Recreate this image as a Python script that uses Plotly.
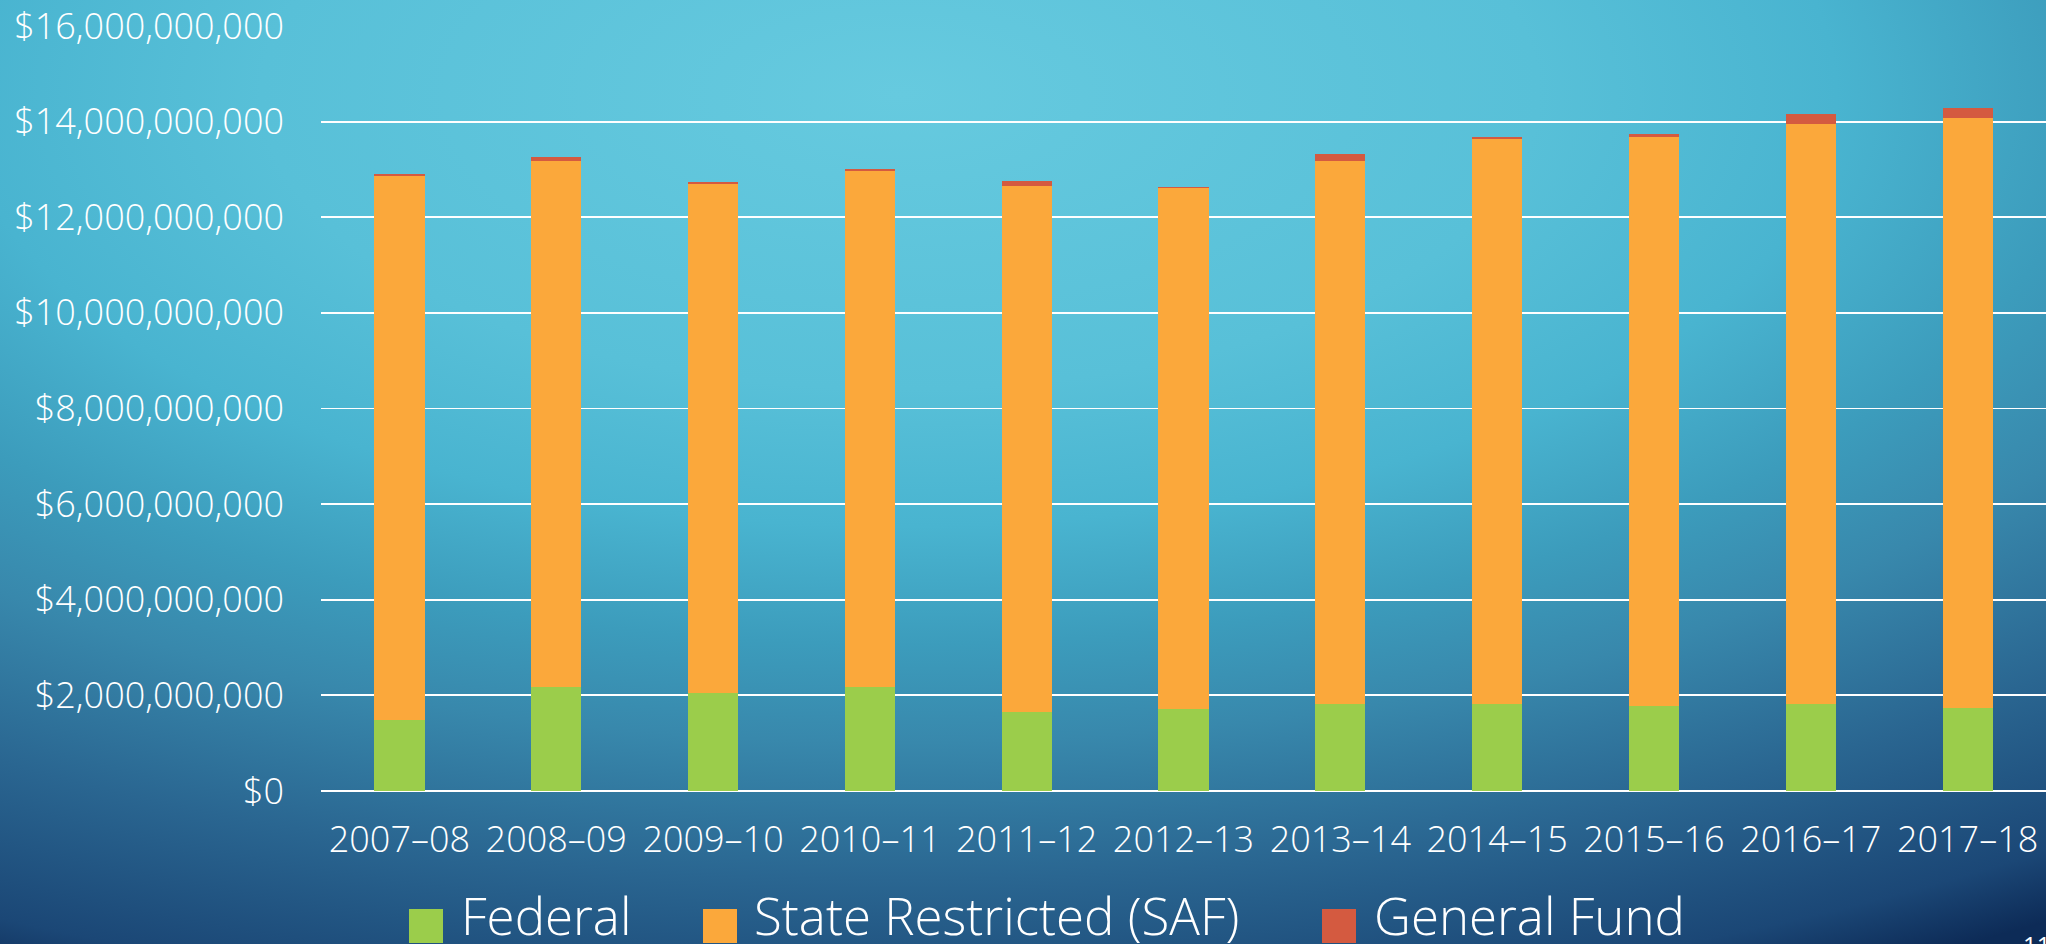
import base64
import plotly.graph_objects as go

# ---------------- data (values in billions of dollars) ----------------
years = ["2007–08", "2008–09", "2009–10", "2010–11", "2011–12", "2012–13",
         "2013–14", "2014–15", "2015–16", "2016–17", "2017–18"]
federal = [1.48, 2.17, 2.06, 2.17, 1.66, 1.71, 1.82, 1.81, 1.77, 1.81, 1.73]
state_restricted = [11.38, 11.01, 10.64, 10.79, 11.00, 10.90, 11.35, 11.82, 11.90, 12.13, 12.35]
general_fund = [0.04, 0.08, 0.04, 0.04, 0.09, 0.02, 0.15, 0.04, 0.07, 0.21, 0.21]
series_names = ["Federal", "State Restricted (SAF)", "General Fund"]
BILLION = 1e9

# ---------------- styling ----------------
W, H = 2046, 944
ML, MR, MT, MB = 321, 0, 26, 153
PW, PH = W - ML - MR, H - MT - MB
colors = ["#9bcd4b", "#fba83b", "#d45a40"]
FONT = "Open Sans"


def px_x(p):
    return (p - ML) / PW


def px_y(p):
    return (H - MB - p) / PH


svg = f'''<svg xmlns="http://www.w3.org/2000/svg" width="{W}" height="{H}" viewBox="0 0 {W} {H}" preserveAspectRatio="none">
<defs>
<radialGradient id="g" cx="0.44" cy="0.10" r="1.04" gradientUnits="objectBoundingBox">
<stop offset="0" stop-color="#66cadf"/>
<stop offset="0.30" stop-color="#58c0d8"/>
<stop offset="0.44" stop-color="#49b4d0"/>
<stop offset="0.56" stop-color="#3c9cbc"/>
<stop offset="0.66" stop-color="#3888ac"/>
<stop offset="0.80" stop-color="#2a6691"/>
<stop offset="0.94" stop-color="#1b4776"/>
<stop offset="1" stop-color="#0d2b57"/>
</radialGradient>
</defs>
<rect x="0" y="0" width="{W}" height="{H}" fill="url(#g)"/>
</svg>'''
bg_uri = "data:image/svg+xml;base64," + base64.b64encode(svg.encode()).decode()

fig = go.Figure()
for name, vals, col in zip(series_names, [federal, state_restricted, general_fund], colors):
    fig.add_trace(go.Bar(
        x=years, y=[v * BILLION for v in vals], name=name,
        marker=dict(color=col, line=dict(width=0)),
        showlegend=False, hoverinfo="skip",
    ))

tick_font = dict(size=36, color="white", family=FONT, weight=300)

fig.update_layout(
    width=W, height=H,
    barmode="stack", bargap=0.68,
    margin=dict(l=ML, r=MR, t=MT, b=MB, autoexpand=False),
    paper_bgcolor="#0d2b57", plot_bgcolor="rgba(0,0,0,0)",
    font=dict(family=FONT, color="white"),
    images=[dict(source=bg_uri, xref="paper", yref="paper",
                 x=px_x(0), y=px_y(0), sizex=W / PW, sizey=H / PH,
                 sizing="stretch", layer="below", xanchor="left", yanchor="top")],
    xaxis=dict(showgrid=False, showline=False, zeroline=False, ticks="",
               tickfont=tick_font, ticklabelstandoff=24, fixedrange=True),
    yaxis=dict(range=[0, 16 * BILLION], dtick=2 * BILLION,
               tickprefix="$", tickformat=",.0f",
               showgrid=True, gridcolor="white", gridwidth=1.8,
               zeroline=True, zerolinecolor="white", zerolinewidth=2,
               showline=False, ticks="", fixedrange=True,
               tickfont=tick_font, ticklabelstandoff=36),
)

# manual legend (large squares like the original)
legend_items = [(409, 459), (703, 752), (1322, 1372)]
for (sq_x, tx_x), name, col in zip(legend_items, series_names, colors):
    fig.add_shape(type="rect", xref="paper", yref="paper",
                  x0=px_x(sq_x), x1=px_x(sq_x + 34), y0=px_y(943), y1=px_y(909),
                  fillcolor=col, line=dict(width=0), layer="above")
    fig.add_annotation(text=name, xref="paper", yref="paper",
                       x=px_x(tx_x), y=px_y(915), xanchor="left", yanchor="middle",
                       showarrow=False,
                       font=dict(size=51, color="white", family=FONT, weight=300))

# slide number, mostly cut off at the bottom edge
fig.add_annotation(text="11", xref="paper", yref="paper",
                   x=px_x(2021), y=px_y(926), xanchor="left", yanchor="top",
                   showarrow=False, font=dict(size=24, color="white", family=FONT))

fig.write_html("out.html", config={"displayModeBar": False, "staticPlot": True},
               post_script="document.body.style.margin='0';document.body.style.overflow='hidden';")
